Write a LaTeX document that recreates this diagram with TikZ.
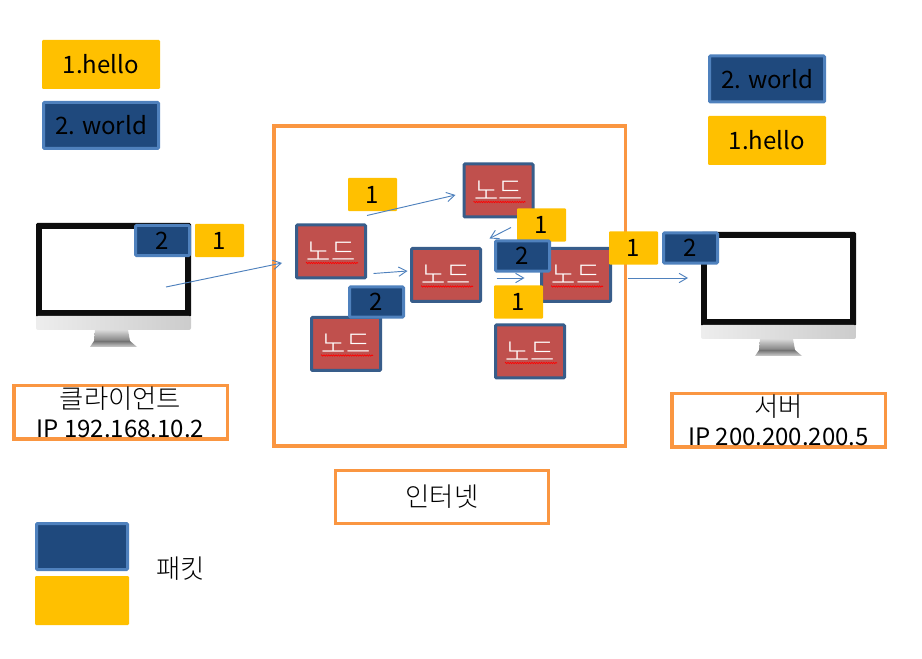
\documentclass[tikz,border=0pt]{standalone}
\usepackage{fontspec}
\setmainfont{Noto Sans CJK KR}
\newfontfamily\hangul[Scale=1.1]{Noto Sans CJK KR Light}
\usepackage{xcolor}
\usetikzlibrary{arrows.meta, decorations.pathmorphing}
\definecolor{boxorange}{RGB}{250,150,65}
\definecolor{pktyellow}{RGB}{255,192,0}
\definecolor{pktblue}{RGB}{31,73,125}
\definecolor{pktedge}{RGB}{79,129,189}
\definecolor{nodered}{RGB}{192,80,77}
\definecolor{nodeedge}{RGB}{56,93,138}

\begin{document}
\begin{tikzpicture}[
    x=0.75pt, y=-0.75pt,
    every node/.style={font=\fontsize{18}{21.75}\selectfont, inner sep=0pt},
    hop/.style     ={rectangle, rounded corners=0.8pt, draw=nodeedge, line width=2.25pt, fill=nodered, text=white, font=\fontsize{18}{21.75}\selectfont\hangul, minimum width=51.75pt, minimum height=39.75pt},
    squig/.style   ={red, line width=0.5pt, decorate, decoration={zigzag, amplitude=0.5pt, segment length=1.8pt}},
    ypkt/.style    ={rectangle, rounded corners=0.8pt, fill=pktyellow, minimum width=36.75pt, minimum height=25pt},
    bpkt/.style    ={rectangle, rounded corners=0.8pt, draw=pktedge, line width=2.25pt, fill=pktblue, minimum width=40.5pt, minimum height=22.75pt},
    ybig/.style    ={rectangle, rounded corners=0.8pt, fill=pktyellow, minimum width=88.5pt, minimum height=36.75pt},
    bbig/.style    ={rectangle, rounded corners=0.8pt, draw=pktedge, line width=2.25pt, fill=pktblue, minimum width=86.25pt, minimum height=34.5pt},
    caption/.style ={rectangle, draw=boxorange, line width=2.5pt, align=center, minimum width=160pt, minimum height=40pt},
    link/.style    ={-{Straight Barb[length=6pt, width=7pt]}, pktedge, line width=0.7pt},
    monitor/.pic={
        % 0,0 is the top left corner of the frame
        \fill[black!95, rounded corners=1pt] (0,0) rectangle (155,94);
        \fill[white] (6,6) rectangle (149,87);
        \shade[left color=black!7, right color=black!20, rounded corners=1.5pt] (0,93) rectangle (155,107);
        \shade[top color=black!15, bottom color=black!50] (59,107) -- (92,107) -- (94,118) -- (58,118) -- cycle;
        \shade[top color=black!55, bottom color=black!18] (58,118) -- (94,118) -- (101,124) -- (54,124) -- cycle;
    }
]
\useasboundingbox (0,0) rectangle (922,659);

% --- packets in the top corners ---
\node[ybig] (chello) at (101,64.5) {1.hello};
\node[bbig] (cworld) at (101,125.5) {2. world};
\node[bbig] (sworld) at (767,79) {2. world};
\node[ybig] (shello) at (767,140.5) {1.hello};

% --- client and server ---
\pic at (36,223) {monitor};
\pic at (701,232) {monitor};
\node[caption] (client) at (120.5,412.5) {{\hangul 클라이언트}\\IP 192.168.10.2};
\node[caption] (server) at (778.5,420.5) {{\hangul 서버}\\IP 200.200.200.5};
\coordinate (clientout) at (166,287);
\coordinate (serverin) at (688,278);

% --- internet ---
\node[rectangle, draw=boxorange, line width=2.5pt, minimum width=263.5pt, minimum height=240pt] (net) at (449.5,286) {};
\node[caption, minimum height=39.5pt] (netlabel) at (442,497) {{\hangul 인터넷}};

% --- hops ---
\foreach \hname/\hx/\hy in {hopa/331/251.5, hopb/498.5/190.5, hopc/446/275, hopd/576/275, hope/346/344, hopf/530/351.5} {
    \node[hop] (\hname) at (\hx,\hy) {노드};
    \draw[squig] ([shift={(-25,11.5)}]\hname.center) -- ([shift={(27,11.5)}]\hname.center);
}

% --- packets on the way ---
\node[bpkt] (ctwo)  at (162.5,240.5) {2};
\node[ypkt] (cone)  at (219.5,240.5) {1};
\node[ypkt] (aone)  at (372.5,194.5) {1};
\node[bpkt] (atwo)  at (376.5,302) {2};
\node[ypkt] (bone)  at (541.5,225) {1};
\node[bpkt] (dtwo)  at (522.5,256) {2};
\node[ypkt] (done)  at (518.5,302) {1};
\node[ypkt] (eone)  at (633.5,248) {1};
\node[bpkt] (etwo)  at (690.5,248) {2};

% --- links ---
\draw[link] (clientout) -- ([shift={(-13,11.5)}]hopa.west);
\draw[link] ([shift={(0,-8)}]hopa.north east) -- ([shift={(-7,4.5)}]hopb.west);
\draw[link] ([shift={(6.5,-6)}]hopa.south east) -- ([shift={(-2.5,-4)}]hopc.west);
\draw[link] ([shift={(12.5,9)}]hopb.south) -- ([shift={(7.5,-8.5)}]hopc.north east);
\draw[link] ([shift={(14.5,3)}]hopc.east) -- ([shift={(-15.5,3)}]hopd.west);
\draw[link] ([shift={(15.5,3)}]hopd.east) -- (serverin);

% --- legend ---
\node[bpkt, minimum width=68.25pt, minimum height=34.5pt] (legblue) at (82,546.5) {};
\node[ybig, minimum width=70.5pt] (legyellow) at (82,600.5) {};
\node[anchor=west] (legtext) at (156,569) {{\hangul 패킷}};
\end{tikzpicture}
\end{document}
